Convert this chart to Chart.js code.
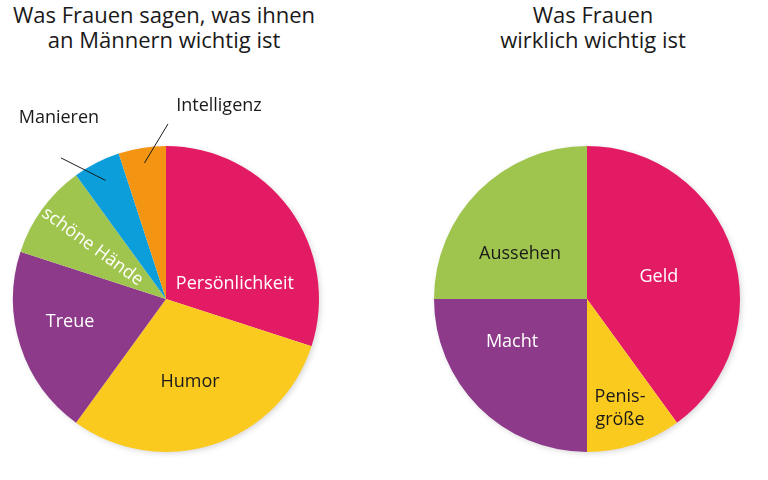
<!DOCTYPE html>
<html>
<head>
<meta charset="utf-8">
<script src="https://cdn.jsdelivr.net/npm/chart.js@4.4.1/dist/chart.umd.min.js"></script>
<style>
  html, body { margin: 0; padding: 0; background: #fff; }
  body { width: 768px; height: 480px; position: relative; overflow: hidden; font-family: 'Open Sans', sans-serif; }
  .title { position: absolute; top: 2px; width: 360px; text-align: center; font-size: 22px; line-height: 25px; color: #1a1a1a; }
  .box { position: absolute; top: 0; width: 384px; height: 480px; }
</style>
</head>
<body>
<div class="title" style="left:-16px">Was Frauen sagen, was ihnen<br>an Männern wichtig ist</div>
<div class="title" style="left:413px">Was Frauen<br>wirklich wichtig ist</div>
<div class="box" style="left:0"><canvas id="left"></canvas></div>
<div class="box" style="left:384px"><canvas id="right"></canvas></div>
<script>
// what they say
const saidLabels = ['Persönlichkeit', 'Humor', 'Treue', 'schöne Hände', 'Manieren', 'Intelligenz'];
const saidValues = [30, 30, 20, 10, 5, 5];
// what really matters
const realLabels = ['Geld', 'Penisgröße', 'Macht', 'Aussehen'];
const realValues = [40, 10, 25, 25];

const MAGENTA = '#e31b64', YELLOW = '#fbca1f', PURPLE = '#8d3a8b',
      GREEN = '#a0c54e', BLUE = '#0c9edb', ORANGE = '#f39412';

// label placement, in units of the pie radius relative to its centre
const saidLabelStyle = [
  { color: '#fff', pos: [0.45, -0.105] },
  { color: '#1a1a1a', pos: [0.157, 0.536] },
  { color: '#fff', pos: [-0.627, 0.144] },
  { color: '#fff', radial: 0.59 },
  { color: '#1a1a1a', pos: [-0.70, -1.19], lead: [0.87, -0.686, -0.922] },
  { color: '#1a1a1a', pos: [0.346, -1.268], lead: [0.90, 0.013, -1.144] }
];
const realLabelStyle = [
  { color: '#fff', pos: [0.47, -0.15] },
  { color: '#1a1a1a', pos: [0.216, 0.709], lines: ['Penis-', 'größe'] },
  { color: '#fff', pos: [-0.49, 0.275] },
  { color: '#1a1a1a', pos: [-0.438, -0.30] }
];

Chart.defaults.font.family = "'Open Sans', sans-serif";

const sliceLabels = {
  id: 'sliceLabels',
  beforeDatasetsDraw(chart) {
    // soft shadow under the whole pie
    const arc = chart.getDatasetMeta(0).data[0];
    if (!arc) return;
    const { x, y, outerRadius } = arc.getProps(['x', 'y', 'outerRadius'], true);
    const ctx = chart.ctx;
    ctx.save();
    ctx.shadowColor = 'rgba(0,0,0,0.18)';
    ctx.shadowBlur = 6;
    ctx.shadowOffsetX = 2;
    ctx.shadowOffsetY = 2;
    ctx.fillStyle = '#fff';
    ctx.beginPath();
    ctx.arc(x, y, outerRadius - 1, 0, Math.PI * 2);
    ctx.fill();
    ctx.restore();
  },
  afterDatasetsDraw(chart, args, opts) {
    const ctx = chart.ctx;
    const meta = chart.getDatasetMeta(0);
    ctx.save();
    ctx.font = "18px 'Open Sans', sans-serif";
    ctx.textAlign = 'center';
    ctx.textBaseline = 'alphabetic';
    meta.data.forEach((arc, i) => {
      const st = opts.styles[i];
      const { x, y, startAngle, endAngle, outerRadius: r } =
        arc.getProps(['x', 'y', 'startAngle', 'endAngle', 'outerRadius'], true);
      const mid = (startAngle + endAngle) / 2;
      const lines = st.lines || [chart.data.labels[i]];
      ctx.fillStyle = st.color;
      if (st.radial) {
        ctx.save();
        ctx.translate(x + Math.cos(mid) * r * st.radial, y + Math.sin(mid) * r * st.radial);
        ctx.rotate(mid + Math.PI);
        ctx.fillText(lines[0], 0, 6);
        ctx.restore();
        return;
      }
      const px = x + st.pos[0] * r, py = y + st.pos[1] * r;
      const lh = 23;
      lines.forEach((t, k) => {
        ctx.fillText(t, px, py + 6 + (k - (lines.length - 1) / 2) * lh);
      });
      if (st.lead) {
        ctx.strokeStyle = '#1a1a1a';
        ctx.lineWidth = 1;
        ctx.beginPath();
        ctx.moveTo(x + Math.cos(mid) * r * st.lead[0], y + Math.sin(mid) * r * st.lead[0]);
        ctx.lineTo(x + st.lead[1] * r, y + st.lead[2] * r);
        ctx.stroke();
      }
    });
    ctx.restore();
  }
};

function makePie(id, labels, values, colors, styles, padding) {
  return new Chart(document.getElementById(id), {
    type: 'pie',
    data: {
      labels: labels,
      datasets: [{
        data: values,
        backgroundColor: colors,
        borderWidth: 0
      }]
    },
    options: {
      responsive: true,
      maintainAspectRatio: false,
      animation: false,
      layout: { padding: padding },
      plugins: {
        legend: { display: false },
        tooltip: { enabled: false },
        sliceLabels: { styles: styles }
      }
    },
    plugins: [sliceLabels]
  });
}

makePie('left', saidLabels, saidValues,
  [MAGENTA, YELLOW, PURPLE, GREEN, BLUE, ORANGE], saidLabelStyle,
  { left: 13, right: 65, top: 146, bottom: 28 });
makePie('right', realLabels, realValues,
  [MAGENTA, YELLOW, PURPLE, GREEN], realLabelStyle,
  { left: 50, right: 28, top: 146, bottom: 28 });
</script>
</body>
</html>
